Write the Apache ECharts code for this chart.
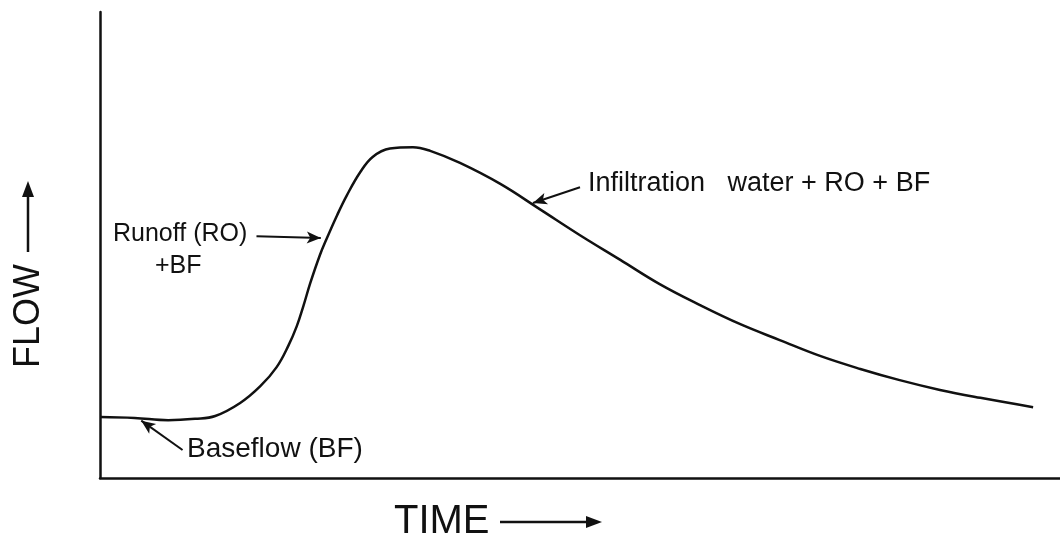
<!DOCTYPE html>
<html>
<head>
<meta charset="utf-8">
<style>
  html, body { margin: 0; padding: 0; background: #fff; }
  #chart { width: 1060px; height: 540px; }
</style>
<script src="https://cdn.jsdelivr.net/npm/echarts@6/dist/echarts.min.js"></script>
</head>
<body>
<div id="chart"></div>
<script>
// Storm hydrograph: relative time vs. relative flow
const timeValues = [0, 3.6, 7.1, 9.9, 12.0, 14.6, 16.7, 18.4, 19.6, 20.5, 21.2, 21.9, 22.9, 23.6, 24.7, 25.7, 27.1, 28.4, 30.2, 32.6, 34.4, 37.5, 41.7, 45.8, 50.0, 54.2, 58.3, 62.5, 66.7, 70.8, 75.0, 79.2, 83.3, 87.5, 91.7, 97.2];
const flowValues = [13.1, 12.9, 12.4, 12.7, 13.3, 16.1, 19.7, 23.8, 28.3, 32.6, 37.0, 41.8, 47.8, 51.3, 56.4, 60.6, 65.6, 68.9, 70.7, 71.0, 70.2, 67.6, 63.1, 57.7, 52.1, 46.8, 41.6, 37.1, 33.0, 29.6, 26.2, 23.4, 21.0, 18.9, 17.2, 15.2];

// Annotation arrows: [tail, tip] in (time, flow)
const runoffArrow = [[16.3, 51.9], [23.0, 51.5]];
const baseflowArrow = [[8.6, 6.0], [4.3, 12.3]];
const infiltrationArrow = [[50.0, 62.4], [45.1, 59.0]];

const FONT = 'Liberation Sans';
const INK = '#111';

const chart = echarts.init(document.getElementById('chart'));

function arrowLine(coords) {
  return [
    { coord: coords[0], symbol: 'none' },
    { coord: coords[1], symbol: 'arrow' }
  ];
}

chart.setOption({
  animation: false,
  backgroundColor: '#fff',
  grid: { left: 100, right: 0, top: 12, bottom: 62 },
  xAxis: {
    type: 'value', min: 0, max: 100,
    axisLine: { show: true, lineStyle: { color: INK, width: 2.5 } },
    axisTick: { show: false }, axisLabel: { show: false }, splitLine: { show: false }
  },
  yAxis: {
    type: 'value', min: 0, max: 100,
    axisLine: { show: true, lineStyle: { color: INK, width: 2.5 } },
    axisTick: { show: false }, axisLabel: { show: false }, splitLine: { show: false }
  },
  series: [{
    type: 'line',
    data: timeValues.map((t, i) => [t, flowValues[i]]),
    smooth: 0.4,
    showSymbol: false,
    lineStyle: { color: INK, width: 2.5 },
    markLine: {
      silent: true,
      animation: false,
      symbol: ['none', 'arrow'],
      symbolSize: [9, 14],
      lineStyle: { color: INK, width: 2, type: 'solid' },
      label: { show: false },
      data: [arrowLine(runoffArrow), arrowLine(baseflowArrow), arrowLine(infiltrationArrow)]
    }
  }],
  graphic: [
    {
      type: 'text', left: 113, top: 222,
      style: { text: 'Runoff (RO)', font: '25px ' + FONT, fill: INK }
    },
    {
      type: 'text', left: 155, top: 254,
      style: { text: '+BF', font: '25px ' + FONT, fill: INK }
    },
    {
      type: 'text', left: 187, top: 435,
      style: { text: 'Baseflow (BF)', font: '28px ' + FONT, fill: INK }
    },
    {
      type: 'text', left: 588, top: 170,
      style: { text: 'Infiltration   water + RO + BF', font: '27px ' + FONT, fill: INK }
    },
    {
      type: 'text', left: 394, top: 502,
      style: { text: 'TIME', font: '40px ' + FONT, fill: INK }
    },
    {
      type: 'line', shape: { x1: 500, y1: 522, x2: 590, y2: 522 },
      style: { stroke: INK, lineWidth: 2.5 }
    },
    {
      type: 'polygon', shape: { points: [[602, 522], [586, 516], [586, 528]] },
      style: { fill: INK }
    },
    {
      type: 'text', x: 11, y: 368, rotation: Math.PI / 2,
      style: { text: 'FLOW', font: '36px ' + FONT, fill: INK }
    },
    {
      type: 'line', shape: { x1: 28, y1: 252, x2: 28, y2: 194 },
      style: { stroke: INK, lineWidth: 2.5 }
    },
    {
      type: 'polygon', shape: { points: [[28, 181], [22, 197], [34, 197]] },
      style: { fill: INK }
    }
  ]
});
</script>
</body>
</html>
